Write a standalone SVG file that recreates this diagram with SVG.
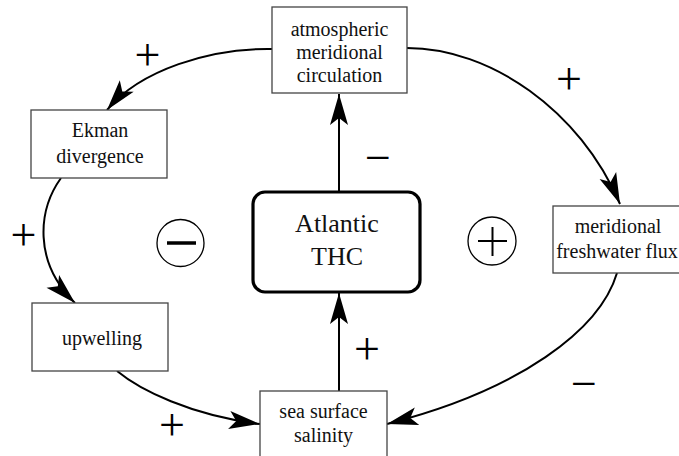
<svg xmlns="http://www.w3.org/2000/svg" width="679" height="456" viewBox="0 0 679 456">
<style>
.box{fill:#fff;stroke:#444;stroke-width:1.3}
.thc{fill:#fff;stroke:#000;stroke-width:3.2}
.t{font-family:"Liberation Serif","Times New Roman",serif;font-size:20px;fill:#111;text-anchor:middle}
.tb{font-family:"Liberation Serif","Times New Roman",serif;font-size:26px;fill:#111;text-anchor:middle}
.lbl{font-family:"Liberation Serif","Times New Roman",serif;font-size:46px;fill:#000;text-anchor:middle}
.c{fill:none;stroke:#000;stroke-width:2;marker-end:url(#ah)}
.sym{fill:none;stroke:#000}
</style>
<defs>
<marker id="ah" markerUnits="userSpaceOnUse" markerWidth="40" markerHeight="26" viewBox="-32 -13 34 26" refX="0" refY="0" orient="auto">
<path d="M0,0 L-31,-9 L-24,0 L-31,9 Z" fill="#000"/>
</marker>
</defs>
<g id="connectors">
<line class="c" x1="339" y1="192" x2="339" y2="94"/>
<line class="c" x1="339" y1="391" x2="339" y2="293"/>
<path class="c" d="M272,49 C210,48 140,70 107,110"/>
<path class="c" d="M407,48 C490,48 580,110 620,204"/>
<path class="c" d="M61,178 C38,210 33,262 75,303"/>
<path class="c" d="M117,371 C140,390 190,415 260,424"/>
<path class="c" d="M617,273 C600,330 520,390 387,424"/>
<text class="lbl" x="147.5" y="70">+</text>
<text class="lbl" x="378" y="173">−</text>
<text class="lbl" x="23.5" y="250">+</text>
<text class="lbl" x="569" y="94">+</text>
<text class="lbl" x="584" y="399">−</text>
<text class="lbl" x="367" y="364">+</text>
<text class="lbl" x="172" y="440">+</text>
</g>
<g id="atmospheric">
<rect class="box" x="272" y="7" width="135" height="86"/>
<text class="t" x="339.5" y="36">atmospheric</text>
<text class="t" x="339.5" y="59">meridional</text>
<text class="t" x="339.5" y="82">circulation</text>
</g>
<g id="ekman">
<rect class="box" x="31" y="110" width="136" height="68"/>
<text class="t" x="100" y="137">Ekman</text>
<text class="t" x="100" y="163">divergence</text>
</g>
<g id="upwelling">
<rect class="box" x="32" y="303" width="136" height="68"/>
<text class="t" x="102" y="345">upwelling</text>
</g>
<g id="salinity">
<rect class="box" x="260" y="391" width="127" height="70"/>
<text class="t" x="323.5" y="418">sea surface</text>
<text class="t" x="323.5" y="442">salinity</text>
</g>
<g id="freshwater">
<rect class="box" x="553" y="206" width="140" height="67"/>
<text class="t" x="618" y="233">meridional</text>
<text class="t" x="617" y="258">freshwater flux</text>
</g>
<g id="thc">
<rect class="thc" x="253" y="192" width="167" height="100" rx="12"/>
<text class="tb" x="337" y="232">Atlantic</text>
<text class="tb" x="337" y="265">THC</text>
</g>
<g id="neg-loop">
<circle class="sym" cx="180.5" cy="243" r="23.5" stroke-width="1.3"/>
<line class="sym" x1="167" y1="243" x2="196" y2="243" stroke-width="3.5"/>
</g>
<g id="pos-loop">
<circle class="sym" cx="492" cy="241" r="24" stroke-width="1.3"/>
<line class="sym" x1="478" y1="241" x2="507" y2="241" stroke-width="2"/>
<line class="sym" x1="492.5" y1="227" x2="492.5" y2="256" stroke-width="2"/>
</g>
</svg>
